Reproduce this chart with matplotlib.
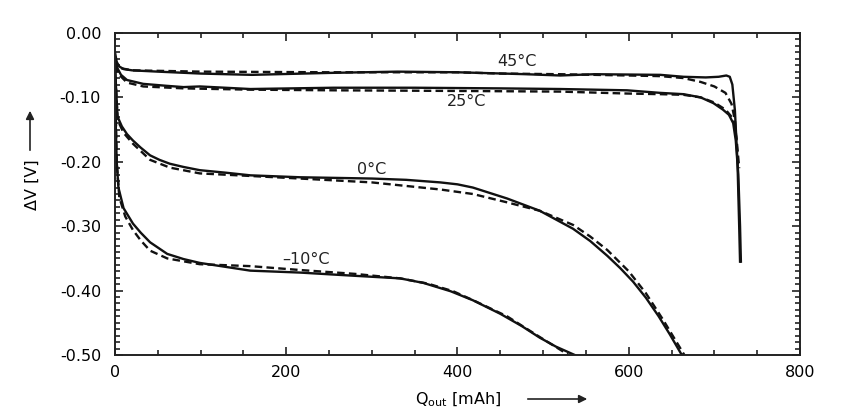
import matplotlib
matplotlib.use("Agg")
import matplotlib.pyplot as plt
from matplotlib.ticker import MultipleLocator

plt.rcParams['font.family'] = ['DejaVu Sans']
plt.rcParams['axes.unicode_minus'] = False

# discharge curves: Q [mAh], dV [V]
q45_meas = [0, 2, 5, 10, 20, 50, 100, 160, 250, 330, 400, 480, 520, 560, 637, 664, 690, 705, 714, 718, 721, 724, 727, 729, 730]
v45_meas = [-0.030, -0.045, -0.052, -0.056, -0.058, -0.060, -0.063, -0.065, -0.062, -0.060, -0.061, -0.064, -0.066,
            -0.064, -0.065, -0.068, -0.069, -0.068, -0.066, -0.068, -0.080, -0.120, -0.200, -0.300, -0.355]
q45_sim = [0, 3, 8, 20, 100, 250, 400, 450, 520, 600, 637, 664, 684, 700, 713, 720, 724, 726, 728]
v45_sim = [-0.040, -0.050, -0.055, -0.058, -0.060, -0.061, -0.061, -0.063, -0.064, -0.066, -0.067, -0.070, -0.076,
           -0.083, -0.093, -0.110, -0.135, -0.170, -0.210]

q25_meas = [0, 3, 7, 14, 33, 60, 80, 99, 158, 255, 350, 450, 520, 598, 637, 664, 684, 699, 710, 717, 722, 725, 728, 730, 731]
v25_meas = [-0.040, -0.055, -0.065, -0.073, -0.079, -0.082, -0.084, -0.083, -0.087, -0.085, -0.085, -0.086, -0.087,
            -0.089, -0.093, -0.095, -0.100, -0.109, -0.119, -0.127, -0.140, -0.167, -0.220, -0.300, -0.355]
q25_sim = [0, 5, 14, 33, 80, 158, 255, 400, 520, 598, 637, 664, 684, 700, 713, 722, 726, 729]
v25_sim = [-0.050, -0.065, -0.077, -0.083, -0.086, -0.088, -0.089, -0.090, -0.091, -0.094, -0.095, -0.096, -0.100,
           -0.108, -0.119, -0.133, -0.165, -0.210]

q0_meas = [0, 1, 3, 8, 14, 21, 30, 41, 52, 64, 80, 99, 130, 158, 216, 300, 340, 380, 400, 418, 458, 496, 535, 555,
           575, 590, 605, 620, 635, 648, 662]
v0_meas = [-0.040, -0.080, -0.130, -0.145, -0.157, -0.167, -0.178, -0.190, -0.197, -0.203, -0.208, -0.213, -0.217,
           -0.221, -0.224, -0.226, -0.228, -0.232, -0.235, -0.240, -0.257, -0.276, -0.304, -0.323, -0.346, -0.365,
           -0.386, -0.411, -0.440, -0.468, -0.500]
q0_sim = [0, 3, 10, 21, 41, 64, 99, 158, 216, 300, 380, 418, 458, 496, 535, 555, 575, 600, 620, 640, 655, 665]
v0_sim = [-0.050, -0.135, -0.155, -0.172, -0.197, -0.209, -0.218, -0.222, -0.226, -0.232, -0.243, -0.250, -0.263,
          -0.276, -0.298, -0.316, -0.337, -0.370, -0.404, -0.445, -0.478, -0.500]

qm10_meas = [0, 1, 2, 4, 10, 21, 30, 41, 61, 80, 99, 158, 216, 280, 333, 360, 392, 418, 450, 475, 496, 515, 537]
vm10_meas = [-0.050, -0.150, -0.200, -0.240, -0.272, -0.296, -0.310, -0.325, -0.343, -0.351, -0.357, -0.369, -0.372,
             -0.377, -0.381, -0.388, -0.401, -0.415, -0.436, -0.455, -0.473, -0.487, -0.500]
qm10_sim = [0, 2, 5, 12, 21, 30, 41, 61, 99, 158, 216, 280, 333, 365, 395, 420, 458, 496, 530]
vm10_sim = [-0.060, -0.200, -0.255, -0.285, -0.306, -0.322, -0.338, -0.350, -0.359, -0.362, -0.368, -0.374, -0.381,
            -0.389, -0.401, -0.416, -0.440, -0.472, -0.500]

curve_labels = ['45°C', '25°C', '0°C', '–10°C']
label_q = [470, 411, 300, 223]
label_v = [-0.045, -0.106, -0.212, -0.352]

fig = plt.figure(figsize=(8.64, 4.16), dpi=100)
ax = fig.add_axes([0.1331, 0.1466, 0.7928, 0.7741])

lw = 1.7
for q, v in [(q45_meas, v45_meas), (q25_meas, v25_meas), (q0_meas, v0_meas), (qm10_meas, vm10_meas)]:
    ax.plot(q, v, color='#111111', lw=lw, solid_joinstyle='round')
for q, v in [(q45_sim, v45_sim), (q25_sim, v25_sim), (q0_sim, v0_sim), (qm10_sim, vm10_sim)]:
    ax.plot(q, v, color='#111111', lw=lw, dashes=(3.2, 1.8))

for t, q, v in zip(curve_labels, label_q, label_v):
    ax.text(q, v, t, fontsize=11.5, ha='center', va='center', color='#222222')

ax.set_xlim(0, 800)
ax.set_ylim(-0.5, 0)
ax.xaxis.set_major_locator(MultipleLocator(200))
ax.xaxis.set_minor_locator(MultipleLocator(50))
ax.yaxis.set_minor_locator(MultipleLocator(0.01))
ax.set_yticks([-0.5, -0.4, -0.3, -0.2, -0.1, 0.0])
ax.set_yticklabels(['-0.50', '-0.40', '-0.30', '-0.20', '-0.10', '0.00'])

ax.tick_params(which='both', direction='in', top=True, right=True, width=1.2, color='#222222')
ax.tick_params(which='major', length=6)
ax.tick_params(which='minor', length=3.5)
ax.tick_params(axis='y', pad=10, labelsize=11.5)
ax.tick_params(axis='x', pad=7, labelsize=11.5)
for s in ax.spines.values():
    s.set_linewidth(1.4)
    s.set_color('#222222')

# axis labels with arrows
fig.text(32 / 864, 1 - 185 / 416, 'ΔV [V]', rotation=90, ha='center', va='center', fontsize=11.5)
fig.add_artist(matplotlib.patches.FancyArrowPatch((30 / 864, 1 - 153 / 416), (30 / 864, 1 - 108 / 416),
                                                  transform=fig.transFigure, arrowstyle='-|>', mutation_scale=12,
                                                  lw=1.2, color='#222222'))
fig.text(458 / 864, 1 - 400 / 416, r'Q$_{\mathregular{out}}$ [mAh]', ha='center', va='center', fontsize=11.5)
fig.add_artist(matplotlib.patches.FancyArrowPatch((525 / 864, 1 - 399 / 416), (590 / 864, 1 - 399 / 416),
                                                  transform=fig.transFigure, arrowstyle='-|>', mutation_scale=12,
                                                  lw=1.2, color='#222222'))

fig.savefig('out.png', dpi=100, facecolor='white')
